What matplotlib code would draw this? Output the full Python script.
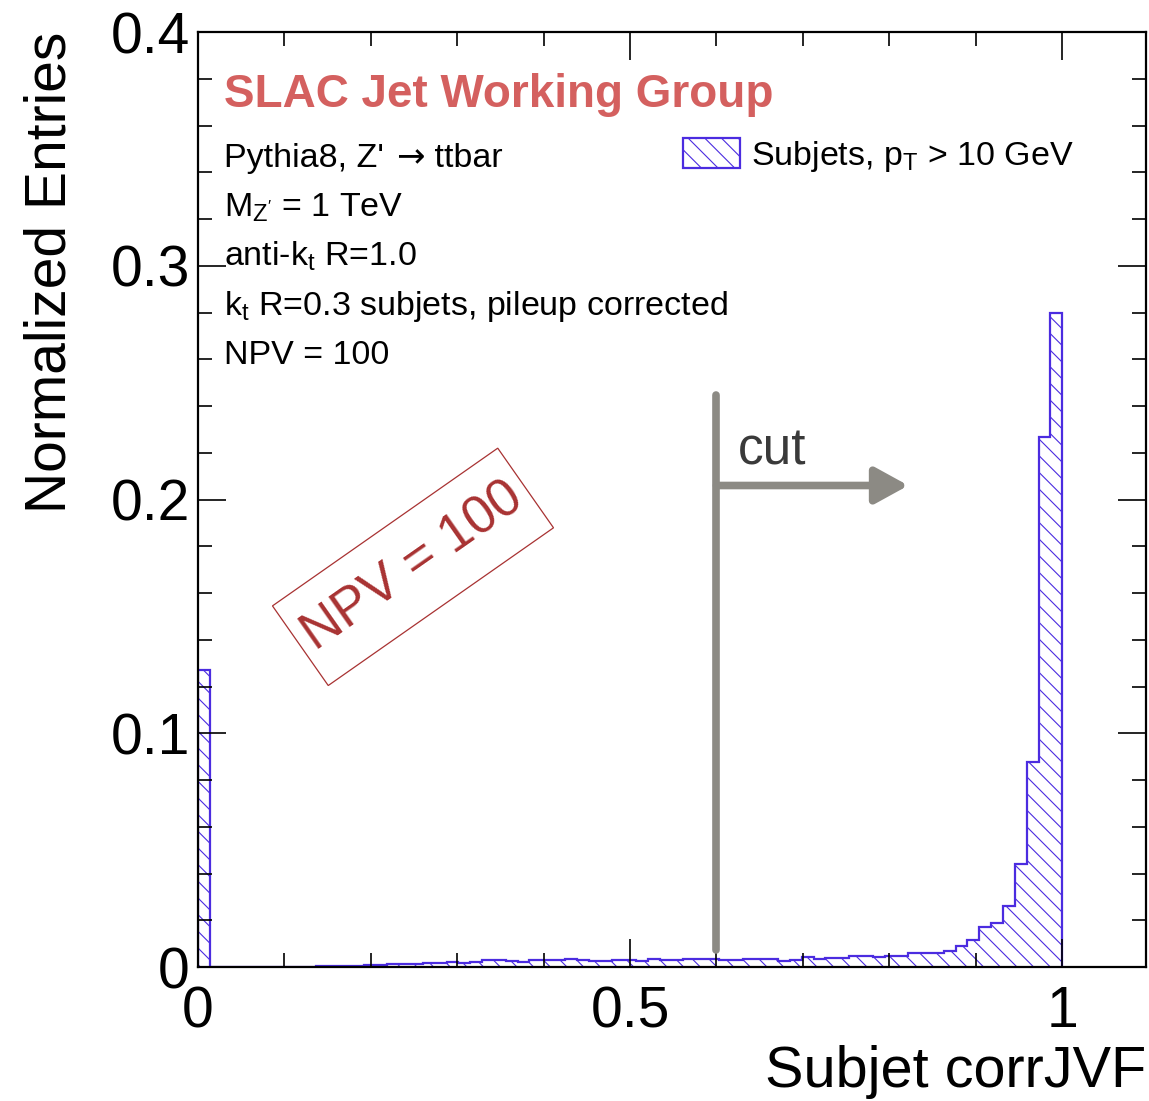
"""Subjet corrJVF distribution at NPV = 100, drawn in a ROOT-like style."""
import matplotlib

matplotlib.use("Agg")
import matplotlib.pyplot as plt
import numpy as np
from matplotlib.patches import Rectangle
from matplotlib.ticker import FixedLocator, MultipleLocator
from matplotlib.transforms import Affine2D, ScaledTranslation

plt.rcParams["font.family"] = ["Liberation Sans", "DejaVu Sans"]
plt.rcParams["mathtext.fontset"] = "custom"
plt.rcParams["mathtext.rm"] = "Liberation Sans"
plt.rcParams["mathtext.it"] = "Liberation Sans:italic"
plt.rcParams["mathtext.bf"] = "Liberation Sans:bold"
plt.rcParams["hatch.linewidth"] = 0.8

HIST_BLUE = "#4b2ce0"
plt.rcParams["hatch.color"] = HIST_BLUE

# normalized entries per corrJVF bin (73 equal bins over [0, 1])
corrjvf_entries = [
    0.127, 0.0, 0.0, 0.0, 0.0, 0.0, 0.0,
    0.0001, 0.0002, 0.0002, 0.0003, 0.0003, 0.0004, 0.0005,
    0.0009, 0.0010, 0.0012, 0.0014, 0.0014, 0.0017, 0.0019, 0.0021,
    0.0019, 0.0020, 0.0028, 0.0030, 0.0025, 0.0021, 0.0029, 0.0028,
    0.0028, 0.0034, 0.0030, 0.0026, 0.0026, 0.0032, 0.0029, 0.0025,
    0.0034, 0.0028, 0.0028, 0.0035, 0.0033, 0.0034, 0.0032, 0.0029,
    0.0035, 0.0035, 0.0035, 0.0026, 0.0030, 0.0041, 0.0035, 0.0039,
    0.0039, 0.0045, 0.0045, 0.0042, 0.0046, 0.0046, 0.0058, 0.0058,
    0.0060, 0.0068, 0.0088, 0.0116, 0.0173, 0.0187, 0.0263, 0.0441,
    0.0878, 0.2267, 0.2800,
]
bin_edges = np.linspace(0.0, 1.0, len(corrjvf_entries) + 1)

# first info line is split so the arrow can use a wider glyph
process_parts = ["Pythia8, Z' ", "\u2192", " ttbar"]
info_lines = [
    r"M$_{\mathrm{Z'}}$ = 1 TeV",
    r"anti-k$_{\mathrm{t}}$ R=1.0",
    r"k$_{\mathrm{t}}$ R=0.3 subjets, pileup corrected",
    "NPV = 100",
]
legend_label = r"Subjets, p$_{\mathrm{T}}$ > 10 GeV"

# cut marker: vertical bar at the cut value, arrow pointing to the kept side
cut_value = 0.6
cut_bar_span = (0.0073, 0.2447)
cut_arrow_y = 0.206
cut_arrow_end = 0.822

fig = plt.figure(figsize=(11.49, 11.01), dpi=100)
ax = fig.add_axes([0.1723, 0.1217, 0.8251, 0.8492])

hist = ax.stairs(
    corrjvf_entries, bin_edges, fill=True, facecolor="none",
    edgecolor=HIST_BLUE, hatch="\\\\", linewidth=1.6, label=legend_label,
)

ax.set_xlim(0, 1.097)
ax.set_ylim(0, 0.4)

# ROOT-style frame: ticks inside on all four sides
for side in ax.spines.values():
    side.set_linewidth(1.6)
ax.xaxis.set_major_locator(FixedLocator([0, 0.5, 1.0]))
ax.xaxis.set_minor_locator(MultipleLocator(0.1))
ax.yaxis.set_major_locator(FixedLocator([0, 0.1, 0.2, 0.3, 0.4]))
ax.yaxis.set_minor_locator(MultipleLocator(0.02))
ax.set_xticklabels(["0", "0.5", "1"])
ax.set_yticklabels(["0", "0.1", "0.2", "0.3", "0.4"])
ax.tick_params(which="both", direction="in", top=True, right=True, width=1.2)
ax.tick_params(which="major", length=20, labelsize=41)
ax.tick_params(which="minor", length=10)
ax.tick_params(axis="x", which="major", pad=13)
ax.tick_params(axis="y", which="major", pad=6)

ax.set_xlabel("Subjet corrJVF", fontsize=41.5, loc="right")
ax.set_ylabel("Normalized Entries", fontsize=41, loc="top")
ax.xaxis.set_label_coords(1.0, -0.083)
ax.yaxis.set_label_coords(-0.127, 1.0)

ax.text(0.0274, 0.9198, "SLAC Jet Working Group", transform=ax.transAxes,
        fontsize=33.0, fontweight="bold", color="#d4605f", va="baseline")

# process line: text, DejaVu arrow, text, chained on a shared baseline
head = ax.text(0.0274, 0.8556, process_parts[0], transform=ax.transAxes,
               fontsize=24.5, va="baseline")
arrow_txt = ax.annotate(process_parts[1], xy=(1, 0), xycoords=head,
                        xytext=(2, 0), textcoords="offset points",
                        fontsize=24.5, family="DejaVu Sans", va="bottom")
ax.annotate(process_parts[2], xy=(1, 0), xycoords=(arrow_txt, head),
            fontsize=24.5, va="bottom")

for i, line in enumerate(info_lines, start=1):
    ax.text(0.0274, 0.8556 - i * 0.0527, line, transform=ax.transAxes,
            fontsize=24.5, va="baseline")

ax.legend(
    handles=[hist], loc="upper left", bbox_to_anchor=(0.512, 0.887),
    frameon=False, fontsize=24.5, handlelength=1.65, handleheight=1.0,
    handletextpad=0.35, borderpad=0.0, borderaxespad=0.0,
)

# tilted "NPV = 100" stamp; the frame is sized in points so it stays
# rectangular regardless of the axes aspect
stamp_center = (0.2268, 0.428)
stamp_angle = 35
stamp_red = "#a83232"
ax.text(*stamp_center, "NPV = 100", transform=ax.transAxes,
        rotation=stamp_angle, rotation_mode="anchor", ha="center",
        va="center", fontsize=38, color=stamp_red)
stamp_w, stamp_h = 198, 70
stamp_tr = (Affine2D().rotate_deg(stamp_angle).scale(fig.dpi / 72)
            + ScaledTranslation(*stamp_center, ax.transAxes))
ax.add_patch(Rectangle((-stamp_w / 2, -stamp_h / 2), stamp_w, stamp_h,
                       transform=stamp_tr, fill=False, ec=stamp_red, lw=0.9))

cut_gray = "#8c8a84"
ax.plot([cut_value, cut_value], cut_bar_span, color=cut_gray, lw=5.5,
        solid_capstyle="round")
ax.annotate(
    "", xy=(cut_arrow_end, cut_arrow_y), xytext=(cut_value, cut_arrow_y),
    arrowprops=dict(arrowstyle="-|>,head_length=1.0,head_width=0.55",
                    color=cut_gray, lw=5.5, mutation_scale=20,
                    shrinkA=0, shrinkB=0),
)
ax.text(cut_value + 0.025, 0.2148, "cut", fontsize=37,
        color="#3a3a3a", va="baseline")

fig.savefig("out.png", dpi=100)
